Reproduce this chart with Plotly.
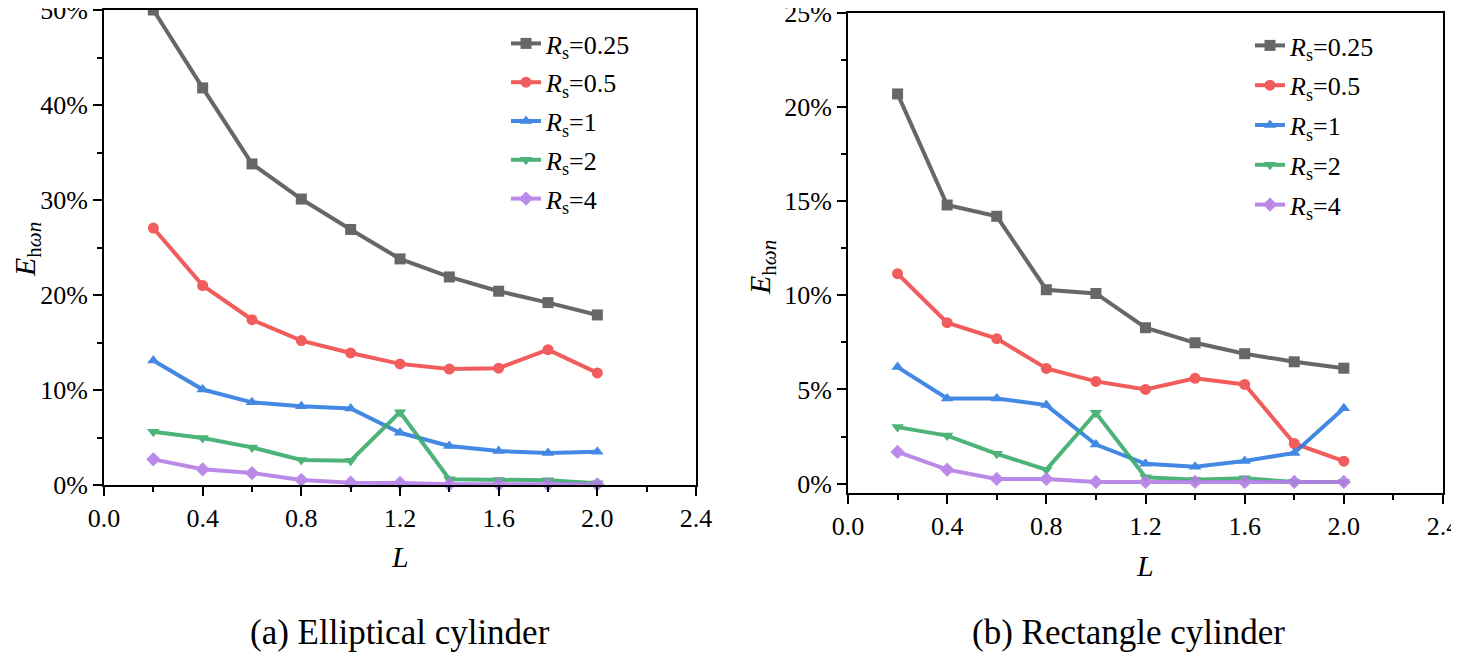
import plotly.graph_objects as go

# ---------------- data ----------------
L_vals = [0.2, 0.4, 0.6, 0.8, 1.0, 1.2, 1.4, 1.6, 1.8, 2.0]
series_names = ["0.25", "0.5", "1", "2", "4"]

# (a) Elliptical cylinder, E (%)
ell_025 = [50.0, 41.8, 33.8, 30.1, 26.9, 23.8, 21.9, 20.4, 19.2, 17.9]
ell_05 = [27.05, 21.0, 17.4, 15.2, 13.9, 12.75, 12.2, 12.3, 14.25, 11.8]
ell_1 = [13.1, 10.05, 8.7, 8.3, 8.05, 5.5, 4.1, 3.57, 3.36, 3.5]
ell_2 = [5.6, 4.94, 3.96, 2.63, 2.56, 7.67, 0.6, 0.53, 0.5, 0.18]
ell_4 = [2.7, 1.65, 1.26, 0.53, 0.25, 0.22, 0.07, 0.07, 0.07, 0.07]

# (b) Rectangle cylinder, E (%)
rec_025 = [20.7, 14.8, 14.2, 10.3, 10.1, 8.28, 7.48, 6.9, 6.47, 6.13]
rec_05 = [11.15, 8.55, 7.7, 6.12, 5.43, 5.0, 5.59, 5.27, 2.13, 1.19]
rec_1 = [6.19, 4.52, 4.52, 4.17, 2.07, 1.05, 0.89, 1.2, 1.63, 4.0]
rec_2 = [3.0, 2.55, 1.58, 0.74, 3.76, 0.34, 0.21, 0.28, 0.09, 0.09]
rec_4 = [1.68, 0.74, 0.25, 0.25, 0.09, 0.09, 0.09, 0.09, 0.09, 0.09]

x_ticks = [0.0, 0.4, 0.8, 1.2, 1.6, 2.0, 2.4]
captions = ["(a) Elliptical cylinder", "(b) Rectangle cylinder"]

# ---------------- styles ----------------
colors = ["#575757", "#f04b4b", "#2f7ce0", "#3aab6b", "#b47ee6"]
symbols = ["square", "circle", "triangle-up", "triangle-down", "diamond"]
FONT = "Liberation Serif"

# the page body has an 8px margin; the figure is sized to fill the rest of the window
OFF = 8
W, H = 1459 - OFF, 661 - OFF
def px(x):
    return (x - OFF) / W
def py(y):
    return 1 - (y - OFF) / H

fig = go.Figure()

left_sets = [ell_025, ell_05, ell_1, ell_2, ell_4]
right_sets = [rec_025, rec_05, rec_1, rec_2, rec_4]

for i, (name, vals) in enumerate(zip(series_names, left_sets)):
    fig.add_trace(go.Scatter(
        x=L_vals, y=[v / 100 for v in vals], mode="lines+markers",
        name=f"<i>R</i><sub>s</sub>={name}",
        line=dict(color=colors[i], width=4),
        marker=dict(symbol=symbols[i], size=11, color=colors[i]),
        opacity=0.9, cliponaxis=False,
        xaxis="x", yaxis="y", legend="legend", legendgroup=f"a{i}",
    ))
for i, (name, vals) in enumerate(zip(series_names, right_sets)):
    fig.add_trace(go.Scatter(
        x=L_vals, y=[v / 100 for v in vals], mode="lines+markers",
        name=f"<i>R</i><sub>s</sub>={name}",
        line=dict(color=colors[i], width=4),
        marker=dict(symbol=symbols[i], size=11, color=colors[i]),
        opacity=0.9, cliponaxis=False,
        xaxis="x2", yaxis="y2", legend="legend2", legendgroup=f"b{i}",
    ))

axis_common = dict(
    showline=True, linecolor="black", linewidth=2, mirror=True,
    ticks="outside", ticklen=9, tickwidth=1.5, tickcolor="black",
    showgrid=False, zeroline=False, automargin=False,
    ticklabeloverflow="allow",
    tickfont=dict(family=FONT, size=26, color="black"),
)
minor_common = dict(ticks="outside", ticklen=5, tickwidth=1.5, tickcolor="black", showgrid=False)

fig.update_layout(
    width=W, height=H,
    margin=dict(l=0, r=0, t=0, b=0, autoexpand=False),
    paper_bgcolor="white", plot_bgcolor="white",
    font=dict(family=FONT, color="black", size=26),
    xaxis=dict(domain=[px(104), px(696)], range=[0, 2.4], tickvals=x_ticks,
               tickformat=".1f", minor=dict(dtick=0.2, **minor_common),
               anchor="y", **axis_common),
    yaxis=dict(domain=[py(485), py(10)], range=[0, 0.5], dtick=0.1,
               tickformat=".0%", minor=dict(dtick=0.05, **minor_common),
               anchor="x", **axis_common),
    xaxis2=dict(domain=[px(848), px(1443)], range=[0, 2.4], tickvals=x_ticks,
                tickformat=".1f", minor=dict(dtick=0.2, **minor_common),
                anchor="y2", **axis_common),
    yaxis2=dict(domain=[py(493), py(13)], range=[-0.005, 0.25], dtick=0.05,
                tickformat=".0%", minor=dict(dtick=0.025, **minor_common),
                anchor="x2", **axis_common),
    legend=dict(x=px(506), y=py(20), xanchor="left", yanchor="top",
                bgcolor="rgba(0,0,0,0)", tracegroupgap=2,
                font=dict(family=FONT, size=26, color="black")),
    legend2=dict(x=px(1250), y=py(22), xanchor="left", yanchor="top",
                 bgcolor="rgba(0,0,0,0)", tracegroupgap=3,
                 font=dict(family=FONT, size=26, color="black")),
    showlegend=True,
)

ytitle = "<i>E</i><sub>h<i>ωn</i></sub>"
ann = [
    dict(text=ytitle, x=px(27), y=py(250), textangle=-90),
    dict(text=ytitle, x=px(762), y=py(268), textangle=-90),
    dict(text="<i>L</i>", x=px(400), y=py(556)),
    dict(text="<i>L</i>", x=px(1145), y=py(565)),
]
for a in ann:
    fig.add_annotation(xref="paper", yref="paper", showarrow=False,
                       xanchor="center", yanchor="middle",
                       font=dict(family=FONT, size=30, color="black"), **a)
for cap, cx in zip(captions, [400, 1128]):
    fig.add_annotation(text=cap, xref="paper", yref="paper", x=px(cx), y=py(632),
                       showarrow=False, xanchor="center", yanchor="middle",
                       font=dict(family=FONT, size=35, color="black"))

fig.write_html("out.html")
